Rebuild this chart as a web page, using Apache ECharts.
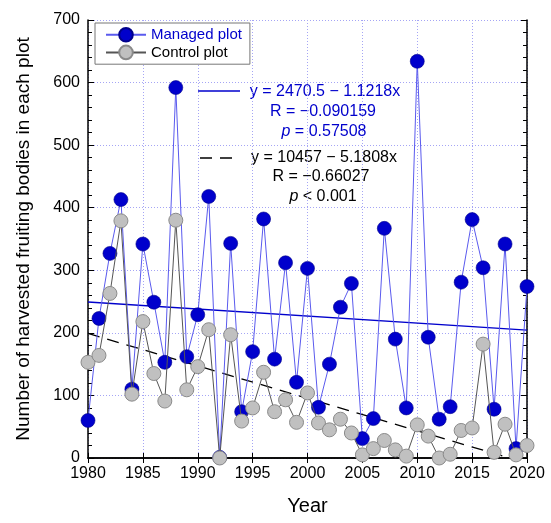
<!DOCTYPE html>
<html>
<head>
    <meta charset="UTF-8">
    <title>Harvested fruiting bodies</title>
    <style>
        html, body { margin: 0; padding: 0; width: 100%; height: 100%; background: #fff; }
        #chart { width: 551px; height: 523px; }
    </style>
    <script src="https://cdn.jsdelivr.net/npm/echarts@6/dist/echarts.min.js"></script>
</head>
<body>
<div id="chart"></div>
<script type="text/javascript">
    // values
    var years = [1980, 1981, 1982, 1983, 1984, 1985, 1986, 1987, 1988, 1989,
                 1990, 1991, 1992, 1993, 1994, 1995, 1996, 1997, 1998, 1999,
                 2000, 2001, 2002, 2003, 2004, 2005, 2006, 2007, 2008, 2009,
                 2010, 2011, 2012, 2013, 2014, 2015, 2016, 2017, 2018, 2019, 2020];
    var managed = [60, 223, 327, 413, 110, 342, 249, 153, 592, 162,
                   229, 418, 1, 343, 74, 170, 382, 158, 312, 121,
                   303, 81, 150, 241, 279, 31, 63, 367, 190, 80,
                   634, 193, 62, 82, 281, 381, 304, 78, 342, 15, 274];
    var control = [153, 164, 263, 379, 102, 218, 135, 91, 380, 109,
                   146, 205, 0, 197, 59, 80, 137, 74, 93, 57,
                   104, 56, 45, 62, 40, 5, 15, 28, 13, 3,
                   53, 35, 0, 6, 44, 48, 182, 9, 54, 5, 20];
    // regression line end points (from the printed equations)
    var fitManaged = [[1980, 249.3], [2020, 204.5]];
    var fitControl = [[1980, 199.0], [2018.4, 0]];

    var myChart = echarts.init(document.getElementById('chart'));
    var font = 'Liberation Sans, Arial, sans-serif';
    var gridLine = { show: true, lineStyle: { color: '#a5a5f5', type: [1, 2], width: 1 } };

    function pairs(vals) {
        var out = [];
        for (var i = 0; i < years.length; i++) out.push([years[i], vals[i]]);
        return out;
    }

    var option = {
        animation: false,
        textStyle: { fontFamily: font },
        grid: { left: 88, right: 24, top: 20, bottom: 65 },
        legend: {
            orient: 'vertical',
            left: 95, top: 23,
            padding: [4, 8, 4, 10],
            itemGap: 2,
            itemWidth: 40, itemHeight: 17,
            borderColor: '#777', borderWidth: 1,
            backgroundColor: '#fff',
            data: [
                { name: 'Managed plot', textStyle: { color: '#0000cc' } },
                { name: 'Control plot', textStyle: { color: '#000' } }
            ],
            textStyle: { fontSize: 15, fontFamily: font }
        },
        xAxis: [{
            type: 'value', min: 1980, max: 2020, interval: 5,
            name: 'Year', nameLocation: 'middle', nameGap: 38,
            nameTextStyle: { fontSize: 20, color: '#000' },
            axisLine: { lineStyle: { color: '#000', width: 1.5 } },
            axisTick: { inside: true, length: 5, lineStyle: { color: '#000' } },
            axisLabel: { color: '#000', fontSize: 16, margin: 8,
                formatter: function (v) { return String(v); } },
            splitLine: gridLine
        }, {
            type: 'value', min: 1980, max: 2020, interval: 5, position: 'top',
            axisLine: { lineStyle: { color: '#000', width: 1.5 } },
            axisTick: { inside: true, length: 5, lineStyle: { color: '#000' } },
            axisLabel: { show: false }, splitLine: { show: false }
        }],
        yAxis: [{
            type: 'value', min: 0, max: 700, interval: 100,
            name: 'Number of harvested fruiting bodies in each plot',
            nameLocation: 'middle', nameGap: 55,
            nameTextStyle: { fontSize: 19, color: '#000' },
            axisLine: { show: true, lineStyle: { color: '#000', width: 1.5 } },
            axisTick: { inside: true, length: 6, lineStyle: { color: '#000' } },
            minorTick: { show: true, splitNumber: 5, length: 4, lineStyle: { color: '#000' } },
            axisLabel: { color: '#000', fontSize: 16, margin: 8 },
            splitLine: gridLine
        }, {
            type: 'value', min: 0, max: 700, interval: 100, position: 'right',
            axisLine: { show: true, lineStyle: { color: '#000', width: 1.5 } },
            axisTick: { inside: true, length: 6, lineStyle: { color: '#000' } },
            minorTick: { show: true, splitNumber: 5, length: 4, lineStyle: { color: '#000' } },
            axisLabel: { show: false }, splitLine: { show: false }
        }],
        series: [{
            name: 'fitManaged', type: 'line', data: fitManaged,
            symbol: 'none', silent: true, z: 1,
            lineStyle: { color: '#0000cc', width: 1.3 }
        }, {
            name: 'fitControl', type: 'line', data: fitControl,
            symbol: 'none', silent: true, z: 1,
            lineStyle: { color: '#000', width: 1.3, type: [12, 8] }
        }, {
            name: 'Managed plot', type: 'line', data: pairs(managed),
            symbol: 'circle', symbolSize: 14, z: 2,
            lineStyle: { color: '#5a5aee', width: 1 },
            itemStyle: { color: '#0000cc', borderColor: '#00008a', borderWidth: 0.6 }
        }, {
            name: 'Control plot', type: 'line', data: pairs(control),
            symbol: 'circle', symbolSize: 14, z: 3,
            lineStyle: { color: '#555', width: 1 },
            itemStyle: { color: '#c0c0c0', borderColor: '#8a8a8a', borderWidth: 1 }
        }],
        graphic: [
            { type: 'line', shape: { x1: 198, y1: 91, x2: 240, y2: 91 },
              style: { stroke: '#0000cc', lineWidth: 1.3 } },
            { type: 'text', x: 325, y: 92, style: { text: 'y = 2470.5 \u2212 1.1218x', fill: '#0000cc',
              font: '16px ' + font, textAlign: 'center', textVerticalAlign: 'middle' } },
            { type: 'text', x: 323, y: 112, style: { text: 'R = \u22120.090159', fill: '#0000cc',
              font: '16px ' + font, textAlign: 'center', textVerticalAlign: 'middle' } },
            { type: 'text', x: 324, y: 132, style: { text: '{i|p} = 0.57508', fill: '#0000cc',
              font: '16px ' + font, textAlign: 'center', textVerticalAlign: 'middle',
              rich: { i: { fontStyle: 'italic', fontSize: 16, fontFamily: font, fill: '#0000cc' } } } },
            { type: 'line', shape: { x1: 200, y1: 158, x2: 240, y2: 158 },
              style: { stroke: '#000', lineWidth: 1.3, lineDash: [12, 8] } },
            { type: 'text', x: 324, y: 158, style: { text: 'y = 10457 \u2212 5.1808x', fill: '#000',
              font: '16px ' + font, textAlign: 'center', textVerticalAlign: 'middle' } },
            { type: 'text', x: 321, y: 177, style: { text: 'R = \u22120.66027', fill: '#000',
              font: '16px ' + font, textAlign: 'center', textVerticalAlign: 'middle' } },
            { type: 'text', x: 323, y: 197, style: { text: '{i|p} < 0.001', fill: '#000',
              font: '16px ' + font, textAlign: 'center', textVerticalAlign: 'middle',
              rich: { i: { fontStyle: 'italic', fontSize: 16, fontFamily: font } } } }
        ]
    };
    myChart.setOption(option);
</script>
</body>
</html>
